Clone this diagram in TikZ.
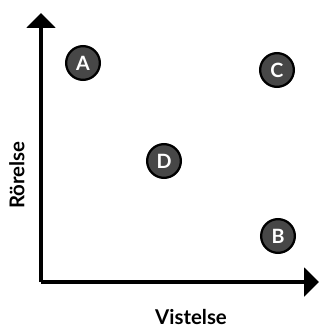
\documentclass[tikz,border=0pt]{standalone}
\usepackage{fontspec}
\setmainfont{Lato}
\usetikzlibrary{arrows.meta}

\begin{document}
\begin{tikzpicture}[x=0.025cm,y=-0.025cm,
  axis/.style={line width=2.6pt,-{Triangle[width=20pt,length=10.5pt]}},
  spot/.style={shape=circle,draw=black,line width=1.6pt,fill=black!72,text=white,
    minimum size=24pt,inner sep=0pt,font=\fontsize{14}{14}\selectfont\bfseries},
  axislabel/.style={font=\fontsize{14.5}{14.5}\selectfont\bfseries}]
\useasboundingbox (0,0) rectangle (320,329);
\path coordinate (o) at (41,282)
      coordinate (ytop) at (41,13)
      coordinate (xend) at (319,282);
\draw [axis] (o) to (ytop);
\draw [axis] (o) to (xend);
\path node (a) at (83,63) [spot] {A}
      node (c) at (277,70) [spot] {C}
      node (d) at (164,161) [spot] {D}
      node (b) at (278,236) [spot] {B};
\node [axislabel] (vist) at (191,317) {Vistelse};
\node [axislabel,rotate=90] (rors) at (17,175) {Rörelse};
\end{tikzpicture}
\end{document}
